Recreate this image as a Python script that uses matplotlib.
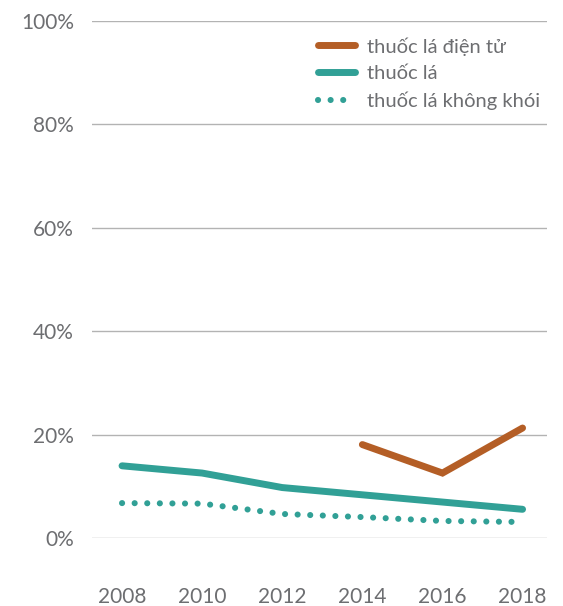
import matplotlib
matplotlib.use("Agg")
import matplotlib.pyplot as plt
from matplotlib.ticker import FuncFormatter

years = [2008, 2010, 2012, 2014, 2016, 2018]
ecig_years = [2014, 2016, 2018]
ecig = [18.1, 12.6, 21.3]
cigarettes = [14.0, 12.6, 9.8, 8.4, 7.0, 5.6]
smokeless = [6.8, 6.7, 4.7, 4.1, 3.35, 3.15]
labels = ["thuốc lá điện tử", "thuốc lá", "thuốc lá không khói"]
yticks = [0, 20, 40, 60, 80, 100]

orange = "#b45e26"
teal = "#31a096"
gray_text = "#6d6e71"

plt.rcParams['font.family'] = ['Lato', 'DejaVu Sans']

fig = plt.figure(figsize=(5.63, 6.06), dpi=100)
ax = fig.add_axes([92/563, 1 - 538.3/606, (547 - 92)/563, (538.3 - 20.5)/606])

ax.plot(ecig_years, ecig, color=orange, lw=5, solid_capstyle='round',
        solid_joinstyle='miter', label=labels[0], zorder=3)
ax.plot(years, cigarettes, color=teal, lw=5, solid_capstyle='round',
        label=labels[1], zorder=3)
ax.plot(years, smokeless, color=teal, lw=4.4, linestyle=(0, (0.01, 2.05)),
        dash_capstyle='round', label=labels[2], zorder=3)

ax.set_xlim(2007.25, 2018.61)
ax.set_ylim(0, 100)
ax.set_yticks(yticks)
ax.yaxis.set_major_formatter(FuncFormatter(lambda v, p: f"{int(v)}%"))
ax.set_xticks(years)
ax.grid(axis='y', color='#b3b3b3', lw=1)
ax.set_axisbelow(True)
for s in ax.spines.values():
    s.set_visible(False)
ax.tick_params(axis='both', length=0, colors=gray_text, labelsize=15)
ax.tick_params(axis='y', pad=13)
ax.tick_params(axis='x', pad=35)

leg = ax.legend(loc='upper left', bbox_to_anchor=((318 - 92)/455, 1 - (37 - 20.5)/517.8),
                frameon=False, fontsize=14.5, handlelength=1.85, handletextpad=0.6,
                labelspacing=0.47, borderpad=0, borderaxespad=0)
for t in leg.get_texts():
    t.set_color(gray_text)

fig.savefig("out.png", dpi=100)
